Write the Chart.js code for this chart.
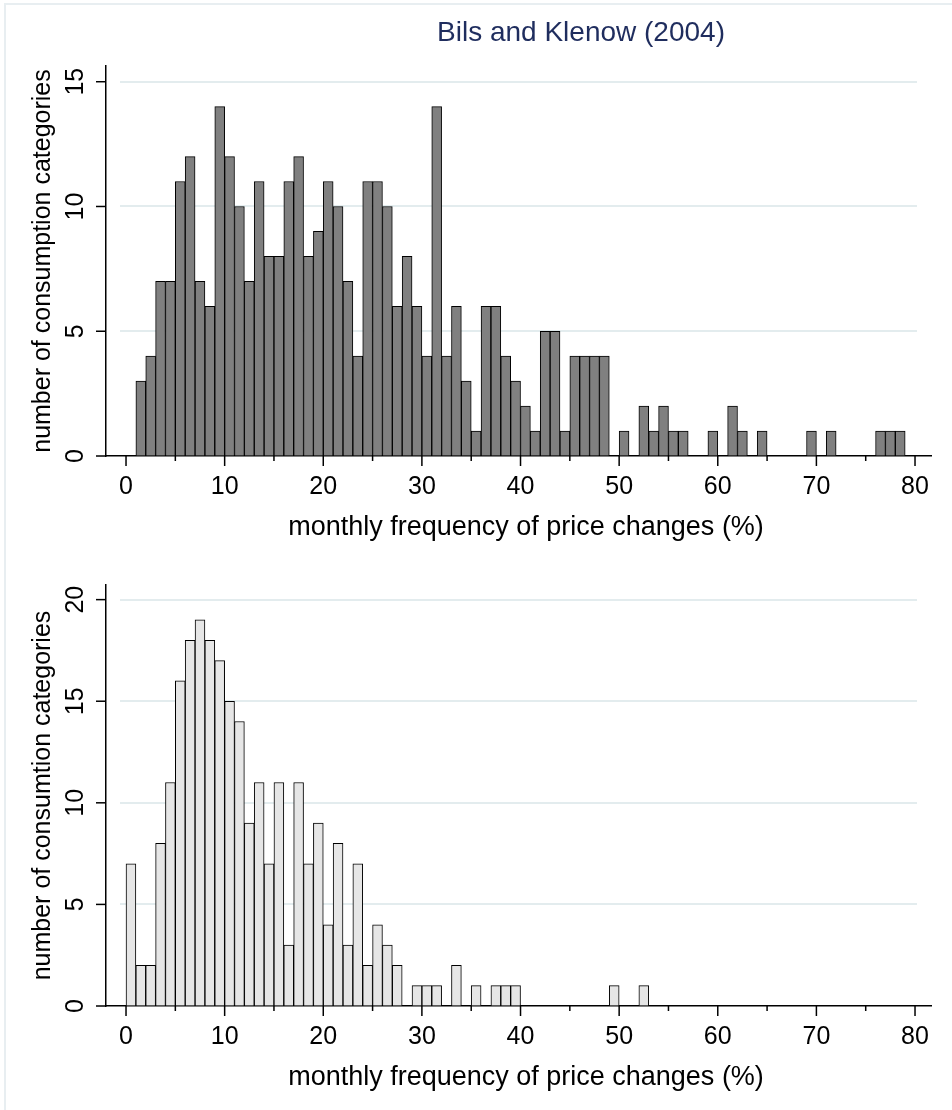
<!DOCTYPE html>
<html>
<head>
<meta charset="utf-8">
<script src="https://cdn.jsdelivr.net/npm/chart.js@4.4.1/dist/chart.umd.min.js"></script>
<style>
  html, body { margin: 0; padding: 0; background: #ffffff; }
  #wrap { position: relative; width: 952px; height: 1110px; overflow: hidden; background: #ffffff; }
  #frame { position: absolute; left: 4px; top: 3px; width: 980px; height: 1140px;
           border-left: 2px solid #e8eef1; border-top: 2px solid #e8eef1; }
  .box { position: absolute; left: 0; width: 952px; height: 555px; }
  canvas { display: block; }
</style>
</head>
<body>
<div id="wrap">
  <div id="frame"></div>
  <div class="box" style="top:0px"><canvas id="c1" width="952" height="555"></canvas></div>
  <div class="box" style="top:555px"><canvas id="c2" width="952" height="555"></canvas></div>
</div>
<script>
// ---------------- DATA ----------------
const binWidth = 1;

// Top panel: Bils and Klenow (2004) — left edge of each bin (%)
const topBinStarts = [1,2,3,4,5,6,7,8,9,10,11,12,13,14,15,16,17,18,19,20,
  21,22,23,24,25,26,27,28,29,30,31,32,33,34,35,36,37,38,39,40,
  41,42,43,44,45,46,47,48,49,50,51,52,53,54,55,56,57,58,59,60,
  61,62,63,64,65,66,67,68,69,70,71,72,73,74,75,76,77,78];
const topCounts = [3,4,7,7,11,12,7,6,14,12,10,7,11,8,8,11,12,8,9,11,
  10,7,4,11,11,10,6,8,6,4,14,4,6,3,1,6,6,4,3,2,
  1,5,5,1,4,4,4,4,0,1,0,2,1,2,1,1,0,0,1,0,
  2,1,0,1,0,0,0,0,1,0,1,0,0,0,0,1,1,1];

// Bottom panel — left edge of each bin (%)
const bottomBinStarts = [0,1,2,3,4,5,6,7,8,9,10,11,12,13,14,15,16,17,18,19,
  20,21,22,23,24,25,26,27,28,29,30,31,32,33,34,35,36,37,38,39,
  40,41,42,43,44,45,46,47,48,49,50,51,52];
const bottomCounts = [7,2,2,8,11,16,18,19,18,17,15,14,9,11,7,11,3,11,7,9,
  4,8,3,7,2,4,3,2,0,1,1,1,0,2,0,1,0,1,1,1,
  0,0,0,0,0,0,0,0,0,1,0,0,1];

const xMajorTicks = [0,10,20,30,40,50,60,70,80];
const xMinorTicks = [5,15,25,35,45,55,65,75];
const topYTicks = [0,5,10,15];
const bottomYTicks = [0,5,10,15,20];

const mainTitle = 'Bils and Klenow (2004)';
const xTitle = 'monthly frequency of price changes (%)';
const topYTitle = 'number of consumption categories';
const bottomYTitle = 'number of consumtion categories';

// ---------------- STYLE ----------------
const FONT = "'Liberation Sans', Arial, 'DejaVu Sans', sans-serif";
Chart.defaults.font.family = FONT;
const gridColor = '#e3ecee';

const stataPlugin = {
  id: 'stata',
  beforeDatasetsDraw(chart, args, opts) {
    const { ctx, chartArea, scales: { y } } = chart;
    ctx.save();
    ctx.strokeStyle = gridColor;
    ctx.lineWidth = 2;
    opts.yTicks.filter(v => v > 0).forEach(v => {
      const py = Math.round(y.getPixelForValue(v));
      ctx.beginPath();
      ctx.moveTo(chartArea.left + 14, py);
      ctx.lineTo(chartArea.right - 14, py);
      ctx.stroke();
    });
    ctx.restore();
  },
  afterDraw(chart, args, opts) {
    const { ctx, chartArea, scales: { x, y } } = chart;
    ctx.save();
    ctx.strokeStyle = '#000';
    ctx.lineWidth = 1.5;
    // x ticks
    opts.xMajor.forEach(v => {
      const px = x.getPixelForValue(v);
      ctx.beginPath(); ctx.moveTo(px, chartArea.bottom); ctx.lineTo(px, chartArea.bottom + 10); ctx.stroke();
    });
    opts.xMinor.forEach(v => {
      const px = x.getPixelForValue(v);
      ctx.beginPath(); ctx.moveTo(px, chartArea.bottom); ctx.lineTo(px, chartArea.bottom + 5); ctx.stroke();
    });
    // y ticks + rotated labels
    ctx.fillStyle = '#000';
    ctx.font = '25px ' + FONT;
    ctx.textAlign = 'center';
    ctx.textBaseline = 'alphabetic';
    opts.yTicks.forEach(v => {
      const py = y.getPixelForValue(v);
      ctx.beginPath(); ctx.moveTo(chartArea.left - 10, py); ctx.lineTo(chartArea.left, py); ctx.stroke();
      ctx.save();
      ctx.translate(chartArea.left - 23, py);
      ctx.rotate(-Math.PI / 2);
      ctx.fillText(String(v), 0, 0);
      ctx.restore();
    });
    // x axis title
    ctx.fillStyle = '#000';
    ctx.font = '27px ' + FONT;
    ctx.textAlign = 'center';
    ctx.fillText(opts.xTitle, 526, chartArea.bottom + 79);
    // main title
    if (opts.title) {
      ctx.fillStyle = '#1f2d5e';
      ctx.font = '28px ' + FONT;
      ctx.textAlign = 'center';
      ctx.textBaseline = 'alphabetic';
      ctx.fillText(opts.title, 581, 41);
    }
    ctx.restore();
  }
};

function makeChart(id, binStarts, counts, fill, yMax, yTicks, yTitle, padTop, padBottom, title) {
  const points = binStarts.map((b, i) => ({ x: b + binWidth / 2, y: counts[i] }));
  return new Chart(document.getElementById(id), {
    type: 'bar',
    data: {
      datasets: [{
        data: points,
        backgroundColor: fill,
        borderColor: '#000000',
        borderWidth: 1,
        barPercentage: 1,
        categoryPercentage: 1
      }]
    },
    options: {
      responsive: false,
      animation: false,
      events: [],
      layout: { padding: { left: 0, right: 21, top: padTop, bottom: padBottom } },
      plugins: {
        legend: { display: false },
        tooltip: { enabled: false },
        title: { display: false },
        stata: { yTicks: yTicks, xMajor: xMajorTicks, xMinor: xMinorTicks, title: title, xTitle: xTitle }
      },
      scales: {
        x: {
          type: 'linear',
          min: -2.03,
          max: 81.62,
          offset: false,
          afterBuildTicks: s => { s.ticks = xMajorTicks.map(v => ({ value: v })); },
          afterFit: s => { s.height = 99; s.paddingLeft = 0; s.paddingRight = 0; },
          grid: { drawOnChartArea: false, drawTicks: false },
          border: { display: true, color: '#000', width: 1.5 },
          ticks: { color: '#000', font: { size: 25 }, padding: 16, maxRotation: 0, minRotation: 0, autoSkip: false },
          title: { display: false }
        },
        y: {
          min: 0,
          max: yMax,
          afterBuildTicks: s => { s.ticks = yTicks.map(v => ({ value: v })); },
          afterFit: s => { s.width = 106; s.paddingTop = 0; s.paddingBottom = 0; },
          grid: { drawOnChartArea: false, drawTicks: false },
          border: { display: true, color: '#000', width: 1.5 },
          ticks: { display: false },
          title: { display: true, text: yTitle, color: '#000', font: { size: 25 }, padding: { top: 28, bottom: 0 } }
        }
      }
    },
    plugins: [stataPlugin]
  });
}

makeChart('c1', topBinStarts, topCounts, '#808080', 15.63, topYTicks, topYTitle, 66, 0, mainTitle);
makeChart('c2', bottomBinStarts, bottomCounts, '#e6e6e6', 20.72, bottomYTicks, bottomYTitle, 30, 5, null);
</script>
</body>
</html>
